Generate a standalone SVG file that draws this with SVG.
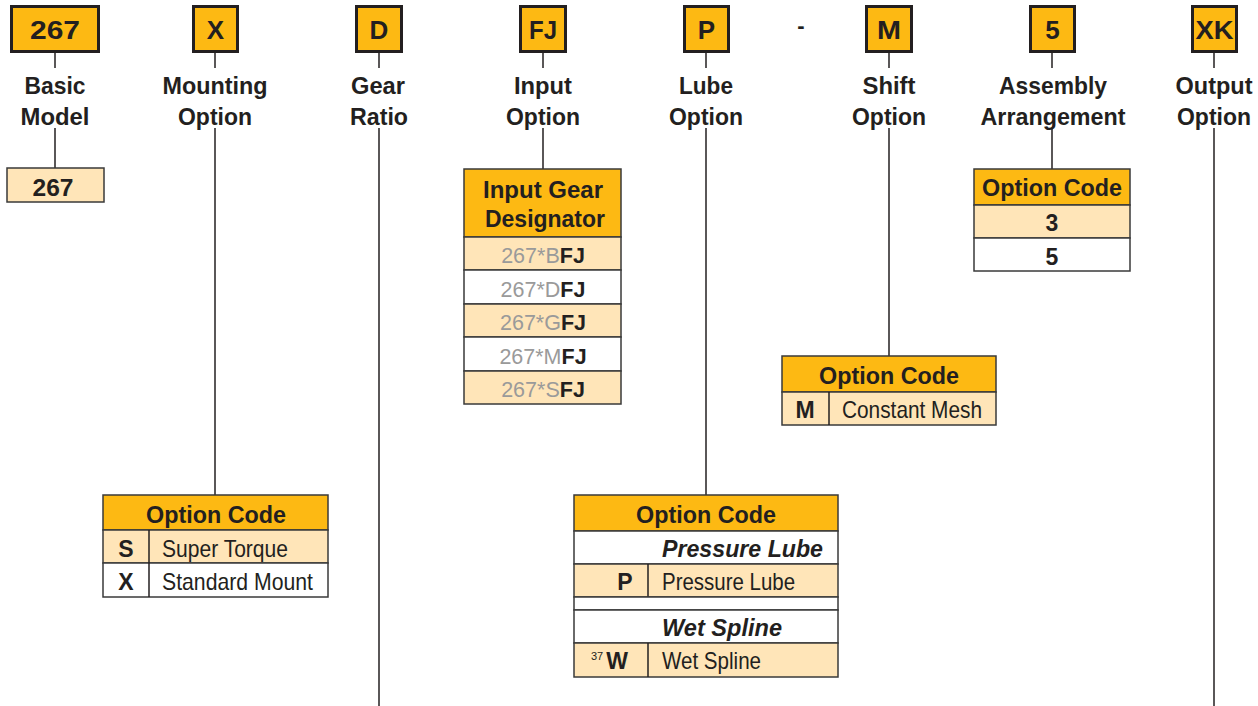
<svg xmlns="http://www.w3.org/2000/svg" width="1258" height="706" viewBox="0 0 1258 706">
<style>
.top{fill:#FDB913;stroke:#231f20;stroke-width:3}
.hd{fill:#FDB913;stroke:#3a3a3a;stroke-width:1.5}
.lt{fill:#FFE5B8;stroke:#3a3a3a;stroke-width:1.5}
.wh{fill:#FFFFFF;stroke:#3a3a3a;stroke-width:1.5}
.ln{stroke:#231f20;stroke-width:1.5;fill:none}
text{font-family:"Liberation Sans",Arial,sans-serif;fill:#231f20}
.bt{font-weight:bold;font-size:26px;text-anchor:middle}
.lbl{font-weight:bold;font-size:24.5px;text-anchor:middle}
.th{font-weight:bold;font-size:24.5px;text-anchor:middle}
.cd{font-weight:bold;font-size:23px;text-anchor:middle}
.rg{font-size:24px}
.it{font-weight:bold;font-style:italic;font-size:24px}
.ig{font-size:21.5px;text-anchor:middle}
.gy{fill:#9a9a9a}
.fj{font-weight:bold}
</style>
<rect width="1258" height="706" fill="#ffffff"/>

<g id="connectors">
<line class="ln" x1="55" y1="53" x2="55" y2="68"/>
<line class="ln" x1="55" y1="128" x2="55" y2="168"/>
<line class="ln" x1="215" y1="53" x2="215" y2="68"/>
<line class="ln" x1="215" y1="128" x2="215" y2="495"/>
<line class="ln" x1="379" y1="53" x2="379" y2="68"/>
<line class="ln" x1="379" y1="128" x2="379" y2="706"/>
<line class="ln" x1="543" y1="53" x2="543" y2="68"/>
<line class="ln" x1="543" y1="128" x2="543" y2="169"/>
<line class="ln" x1="706" y1="53" x2="706" y2="68"/>
<line class="ln" x1="706" y1="128" x2="706" y2="495"/>
<line class="ln" x1="889" y1="53" x2="889" y2="68"/>
<line class="ln" x1="889" y1="128" x2="889" y2="356"/>
<line class="ln" x1="1052" y1="53" x2="1052" y2="68"/>
<line class="ln" x1="1052" y1="128" x2="1052" y2="169"/>
<line class="ln" x1="1214" y1="53" x2="1214" y2="68"/>
<line class="ln" x1="1214" y1="128" x2="1214" y2="706"/>
</g>

<g id="basic-model">
<rect class="top" x="11.5" y="6.5" width="87" height="45"/>
<text class="bt" x="55" y="39" textLength="50" lengthAdjust="spacingAndGlyphs">267</text>
<text class="lbl" x="55" y="94" textLength="61" lengthAdjust="spacingAndGlyphs">Basic</text>
<text class="lbl" x="55" y="125" textLength="69" lengthAdjust="spacingAndGlyphs">Model</text>
<rect class="lt" x="7" y="168" width="97" height="34"/>
<text class="cd" x="53" y="196" font-size="25px" textLength="41" lengthAdjust="spacingAndGlyphs">267</text>
</g>

<g id="mounting-option">
<rect class="top" x="193.5" y="6.5" width="44" height="45"/>
<text class="bt" x="215.5" y="39">X</text>
<text class="lbl" x="215" y="94" textLength="105" lengthAdjust="spacingAndGlyphs">Mounting</text>
<text class="lbl" x="215" y="125" textLength="74" lengthAdjust="spacingAndGlyphs">Option</text>
<rect class="hd" x="103" y="495" width="225" height="35"/>
<text class="th" x="216" y="523" textLength="140" lengthAdjust="spacingAndGlyphs">Option Code</text>
<rect class="lt" x="103" y="530" width="225" height="33"/>
<rect class="wh" x="103" y="563" width="225" height="34"/>
<line class="ln" x1="149" y1="530" x2="149" y2="597" stroke="#3a3a3a"/>
<text class="cd" x="126" y="557">S</text>
<text class="rg" x="162" y="557" textLength="126" lengthAdjust="spacingAndGlyphs">Super Torque</text>
<text class="cd" x="126" y="590">X</text>
<text class="rg" x="162" y="590" textLength="151" lengthAdjust="spacingAndGlyphs">Standard Mount</text>
</g>

<g id="gear-ratio">
<rect class="top" x="356.5" y="6.5" width="45" height="45"/>
<text class="bt" x="379" y="39">D</text>
<text class="lbl" x="378" y="94" textLength="54" lengthAdjust="spacingAndGlyphs">Gear</text>
<text class="lbl" x="379" y="125" textLength="58" lengthAdjust="spacingAndGlyphs">Ratio</text>
</g>

<g id="input-option">
<rect class="top" x="520.5" y="6.5" width="45" height="45"/>
<text class="bt" x="543" y="39" textLength="28" lengthAdjust="spacingAndGlyphs">FJ</text>
<text class="lbl" x="543" y="94" textLength="58" lengthAdjust="spacingAndGlyphs">Input</text>
<text class="lbl" x="543" y="125" textLength="74" lengthAdjust="spacingAndGlyphs">Option</text>
<rect class="hd" x="464" y="169" width="157" height="68"/>
<text class="th" x="543" y="198" textLength="120" lengthAdjust="spacingAndGlyphs">Input Gear</text>
<text class="th" x="545" y="227" textLength="120" lengthAdjust="spacingAndGlyphs">Designator</text>
<rect class="lt" x="464" y="237" width="157" height="33"/>
<rect class="wh" x="464" y="270" width="157" height="34"/>
<rect class="lt" x="464" y="304" width="157" height="33"/>
<rect class="wh" x="464" y="337" width="157" height="34"/>
<rect class="lt" x="464" y="371" width="157" height="33"/>
<text class="ig" x="543" y="263"><tspan class="gy">267*B</tspan><tspan class="fj">FJ</tspan></text>
<text class="ig" x="543" y="297"><tspan class="gy">267*D</tspan><tspan class="fj">FJ</tspan></text>
<text class="ig" x="543" y="330"><tspan class="gy">267*G</tspan><tspan class="fj">FJ</tspan></text>
<text class="ig" x="543" y="364"><tspan class="gy">267*M</tspan><tspan class="fj">FJ</tspan></text>
<text class="ig" x="543" y="397"><tspan class="gy">267*S</tspan><tspan class="fj">FJ</tspan></text>
</g>

<g id="lube-option">
<rect class="top" x="684.5" y="6.5" width="44" height="45"/>
<text class="bt" x="706.5" y="39">P</text>
<text class="lbl" x="706" y="94" textLength="54" lengthAdjust="spacingAndGlyphs">Lube</text>
<text class="lbl" x="706" y="125" textLength="74" lengthAdjust="spacingAndGlyphs">Option</text>
<rect class="hd" x="574" y="495" width="264" height="36"/>
<text class="th" x="706" y="523" textLength="140" lengthAdjust="spacingAndGlyphs">Option Code</text>
<rect class="wh" x="574" y="531" width="264" height="33"/>
<text class="it" x="662" y="557" textLength="161" lengthAdjust="spacingAndGlyphs">Pressure Lube</text>
<rect class="lt" x="574" y="564" width="264" height="33"/>
<line class="ln" x1="648" y1="564" x2="648" y2="597" stroke="#3a3a3a"/>
<text class="cd" x="625" y="590">P</text>
<text class="rg" x="662" y="590" textLength="133" lengthAdjust="spacingAndGlyphs">Pressure Lube</text>
<rect class="wh" x="574" y="597" width="264" height="13"/>
<rect class="wh" x="574" y="610" width="264" height="33"/>
<text class="it" x="662" y="636" textLength="120" lengthAdjust="spacingAndGlyphs">Wet Spline</text>
<rect class="lt" x="574" y="643" width="264" height="34"/>
<line class="ln" x1="648" y1="643" x2="648" y2="677" stroke="#3a3a3a"/>
<text x="591" y="660" font-size="11px">37</text>
<text class="cd" x="617" y="669">W</text>
<text class="rg" x="662" y="669" textLength="99" lengthAdjust="spacingAndGlyphs">Wet Spline</text>
</g>

<g id="separator">
<text x="801" y="33" font-weight="bold" font-size="22px" text-anchor="middle">-</text>
</g>

<g id="shift-option">
<rect class="top" x="866.5" y="6.5" width="45" height="45"/>
<text class="bt" x="889" y="39" textLength="24" lengthAdjust="spacingAndGlyphs">M</text>
<text class="lbl" x="889" y="94" textLength="53" lengthAdjust="spacingAndGlyphs">Shift</text>
<text class="lbl" x="889" y="125" textLength="74" lengthAdjust="spacingAndGlyphs">Option</text>
<rect class="hd" x="782" y="356" width="214" height="36"/>
<text class="th" x="889" y="384" textLength="140" lengthAdjust="spacingAndGlyphs">Option Code</text>
<rect class="lt" x="782" y="392" width="214" height="33"/>
<line class="ln" x1="829" y1="392" x2="829" y2="425" stroke="#3a3a3a"/>
<text class="cd" x="805" y="418">M</text>
<text class="rg" x="842" y="418" textLength="140" lengthAdjust="spacingAndGlyphs">Constant Mesh</text>
</g>

<g id="assembly-arrangement">
<rect class="top" x="1030.5" y="6.5" width="44" height="45"/>
<text class="bt" x="1052.5" y="39">5</text>
<text class="lbl" x="1053" y="94" textLength="108" lengthAdjust="spacingAndGlyphs">Assembly</text>
<text class="lbl" x="1053" y="125" textLength="145" lengthAdjust="spacingAndGlyphs">Arrangement</text>
<rect class="hd" x="974" y="169" width="156" height="36"/>
<text class="th" x="1052" y="196" textLength="140" lengthAdjust="spacingAndGlyphs">Option Code</text>
<rect class="lt" x="974" y="205" width="156" height="33"/>
<text class="cd" x="1052" y="231">3</text>
<rect class="wh" x="974" y="238" width="156" height="33"/>
<text class="cd" x="1052" y="265">5</text>
</g>

<g id="output-option">
<rect class="top" x="1192.5" y="6.5" width="44" height="45"/>
<text class="bt" x="1214.5" y="39" textLength="38" lengthAdjust="spacingAndGlyphs">XK</text>
<text class="lbl" x="1214" y="94" textLength="77" lengthAdjust="spacingAndGlyphs">Output</text>
<text class="lbl" x="1214" y="125" textLength="74" lengthAdjust="spacingAndGlyphs">Option</text>
</g>
</svg>
